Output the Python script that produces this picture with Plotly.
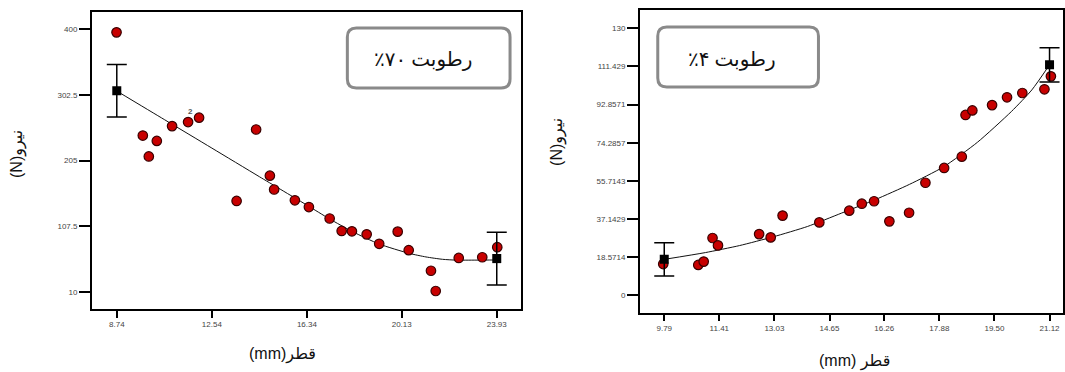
import plotly.graph_objects as go

W, H = 1065, 372

# ---------------- Left panel: humidity 70% ----------------
left_x = [8.73, 9.78, 10.02, 10.34, 10.95, 11.59, 12.03, 13.53, 14.31, 14.86, 15.03, 15.86,
          16.42, 17.25, 17.73, 18.14, 18.73, 19.23, 19.97, 20.41, 21.30, 21.49, 22.41, 23.35, 23.95]
left_y = [395, 242, 211, 234, 256, 262, 268.5, 145, 251, 182.5, 162, 146,
          136, 119, 100.5, 100, 95.5, 81.5, 99.5, 72, 41.5, 11.5, 60.5, 61.5, 76.5]
left_fit_x = [8.74, 10.64, 12.54, 14.44, 16.34, 17.24, 18.17, 19.23, 20.43, 21.1, 21.76, 22.3, 23.1, 23.93]
left_fit_y = [308, 265.7, 223.4, 181, 138.8, 118.5, 99.4, 81.1, 67.3, 62, 58.5, 57.3, 57.3, 57.5]
left_end_x = [8.74, 23.93]
left_end_y = [308.5, 59.5]
left_err = [39, 39]
left_xticks = [8.74, 12.54, 16.34, 20.13, 23.93]
left_yticks = [10, 107.5, 205, 302.5, 400]
left_ytick_text = ["10", "107.5", "205", "302.5", "400"]
left_label = "٪۷۰ رطوبت"
dup_index = 6  # point marked with "2"

# ---------------- Right panel: humidity 4% ----------------
right_x = [9.76, 10.79, 10.95, 11.21, 11.37, 12.58, 12.92, 13.27, 14.35, 15.23, 15.60, 15.96,
           16.41, 16.99, 17.47, 18.02, 18.54, 18.65, 18.85, 19.43, 19.87, 20.32, 20.97, 21.16]
right_y = [15.2, 14.8, 16.4, 27.9, 24.3, 29.8, 28.2, 38.8, 35.5, 41.2, 44.6, 45.8,
           36.0, 40.2, 54.8, 62.0, 67.5, 87.8, 90.0, 92.6, 96.4, 98.5, 100.3, 106.6]
right_fit_x = [9.79, 11.0, 12.0, 13.0, 14.0, 15.0, 16.0, 17.0, 18.0, 19.0, 20.0, 20.6, 21.12]
right_fit_y = [17.5, 20.8, 24.2, 28.5, 33.5, 40.0, 46.6, 54.0, 62.5, 74.5, 89.5, 100.0, 112.2]
right_end_x = [9.79, 21.12]
right_end_y = [17.5, 112.2]
right_err = [8.1, 8.3]
right_xticks = [9.79, 11.41, 13.03, 14.65, 16.26, 17.88, 19.50, 21.12]
right_xtick_text = ["9.79", "11.41", "13.03", "14.65", "16.26", "17.88", "19.50", "21.12"]
right_yticks = [0, 18.5714, 37.1429, 55.7143, 74.2857, 92.8571, 111.429, 130]
right_ytick_text = ["0", "18.5714", "37.1429", "55.7143", "74.2857", "92.8571", "111.429", "130"]
right_label = "٪۴ رطوبت"

x_title_left = "(mm)قطر"
x_title_right = "(mm) قطر"
y_title = "(N)نیرو"

RED = "#c80000"
EDGE = "#3a0000"

fig = go.Figure()


def add_panel(xs, ys, fx, fy, ex, ey, err, xa, ya):
    fig.add_trace(go.Scatter(x=fx, y=fy, mode="lines", line=dict(color="#111", width=1, shape="spline", smoothing=0.6),
                             xaxis=xa, yaxis=ya, hoverinfo="skip", showlegend=False))
    fig.add_trace(go.Scatter(x=xs, y=ys, mode="markers",
                             marker=dict(symbol="circle", size=9.5, color=RED, line=dict(color=EDGE, width=1.2)),
                             xaxis=xa, yaxis=ya, showlegend=False))
    fig.add_trace(go.Scatter(x=ex, y=ey, mode="markers",
                             marker=dict(symbol="square", size=9, color="black"),
                             error_y=dict(type="data", array=err, visible=True, color="black", thickness=1.5, width=10),
                             xaxis=xa, yaxis=ya, showlegend=False))


add_panel(left_x, left_y, left_fit_x, left_fit_y, left_end_x, left_end_y, left_err, "x", "y")
add_panel(right_x, right_y, right_fit_x, right_fit_y, right_end_x, right_end_y, right_err, "x2", "y2")


def px(v):
    return v / W


def py(v):
    return 1 - v / H


tickfont = dict(family="Liberation Sans, Arial, sans-serif", size=8, color="#444")
axis_common = dict(showline=True, linecolor="black", linewidth=1.5, mirror=True, showgrid=False, zeroline=False,
                   ticks="outside", tickcolor="black", tickwidth=1.5, tickfont=tickfont, fixedrange=True,
                   ticklabeloverflow="allow")

fig.update_layout(
    width=W, height=H, margin=dict(l=0, r=0, t=0, b=0),
    paper_bgcolor="white", plot_bgcolor="white",
    xaxis=dict(domain=[px(92), px(522)], range=[7.742, 24.90], tickvals=left_xticks,
               ticktext=[f"{v:.2f}" for v in left_xticks], ticklen=7, anchor="y", **axis_common),
    yaxis=dict(domain=[py(309), py(12)], range=[-15.2, 425.2], tickvals=left_yticks,
               ticktext=left_ytick_text, ticklen=11, anchor="x", **axis_common),
    xaxis2=dict(domain=[px(641), 1.0], range=[9.071, 21.516], tickvals=right_xticks,
                ticktext=right_xtick_text, ticklen=7, anchor="y2", **axis_common),
    yaxis2=dict(domain=[py(312.5), py(10)], range=[-8.37, 138.9], tickvals=right_yticks,
                ticktext=right_ytick_text, ticklen=11, anchor="x2", **axis_common),
)


def rounded_box(x0, y0, x1, y1, r=9):
    rx, ry = r / W, r / H
    X0, X1 = px(x0), px(x1)
    Y0, Y1 = py(y1), py(y0)  # bottom, top
    path = (f"M {X0+rx},{Y1} L {X1-rx},{Y1} Q {X1},{Y1} {X1},{Y1-ry} "
            f"L {X1},{Y0+ry} Q {X1},{Y0} {X1-rx},{Y0} L {X0+rx},{Y0} Q {X0},{Y0} {X0},{Y0+ry} "
            f"L {X0},{Y1-ry} Q {X0},{Y1} {X0+rx},{Y1} Z")
    return dict(type="path", xref="paper", yref="paper", path=path,
                line=dict(color="#8a8a8a", width=3), fillcolor="white", layer="above")


fig.add_shape(**rounded_box(348, 28, 511, 88))
fig.add_shape(**rounded_box(659, 27, 820, 87))

arabic_font = "Times New Roman, Liberation Serif, DejaVu Sans, serif"
title_font = dict(family="Liberation Sans, Arial, DejaVu Sans, sans-serif", size=16, color="#111")

annotations = [
    dict(x=px(424), y=py(60), text=left_label, font=dict(family=arabic_font, size=20, color="#111")),
    dict(x=px(733), y=py(60), text=right_label, font=dict(family=arabic_font, size=20, color="#111")),
    dict(x=px(283), y=py(354), text=x_title_left, font=title_font),
    dict(x=px(856), y=py(361), text=x_title_right, font=title_font),
    dict(x=px(17), y=py(154), text=y_title, textangle=-90, font=title_font),
    dict(x=px(558), y=py(142), text=y_title, textangle=-90, font=title_font),
]
for a in annotations:
    a.update(xref="paper", yref="paper", showarrow=False, xanchor="center", yanchor="middle")
    fig.add_annotation(**a)

fig.add_annotation(x=left_x[dup_index], y=left_y[dup_index], xref="x", yref="y", text="<b>2</b>",
                   showarrow=False, xshift=-9, yshift=6,
                   font=dict(family="Liberation Sans, Arial", size=8, color="#555"))

fig.write_html("out.html", config={"displayModeBar": False},
               post_script="document.body.style.margin='0px';document.body.style.padding='0px';")
